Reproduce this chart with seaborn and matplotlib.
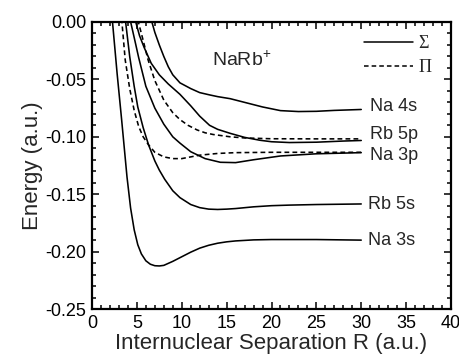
import numpy as np
import pandas as pd
import matplotlib
matplotlib.use("Agg")
import matplotlib.pyplot as plt
import seaborn as sns
from matplotlib.lines import Line2D
from matplotlib.ticker import MultipleLocator

# ---- data (R in a.u., E in a.u.) ----
na3s_R = [2.25, 2.8, 3.3, 3.9, 4.3, 4.7, 5.1, 5.5, 6.0, 6.5, 7.0, 7.5, 8.0, 9.0, 10, 11, 12, 13, 14, 15, 16, 18, 20, 25, 30]
na3s_E = [0.003, -0.045, -0.085, -0.135, -0.162, -0.181, -0.194, -0.202, -0.208, -0.211, -0.2123, -0.2125, -0.212,
          -0.2085, -0.2045, -0.2005, -0.197, -0.1945, -0.1927, -0.1915, -0.1907, -0.1898, -0.1895, -0.1895, -0.190]

rb5s_R = [3.7, 4.2, 4.7, 5.1, 5.7, 6.3, 7.0, 7.5, 8.1, 9.0, 9.8, 11, 12, 13, 14, 15, 16, 18, 20, 22, 25, 30]
rb5s_E = [0.003, -0.030, -0.056, -0.074, -0.092, -0.107, -0.121, -0.129, -0.137, -0.147, -0.153, -0.159, -0.1617,
          -0.163, -0.1633, -0.163, -0.1625, -0.161, -0.160, -0.1595, -0.159, -0.1585]

na3pS_R = [4.25, 4.8, 5.2, 6.0, 7.0, 8.0, 9.0, 9.8, 11, 12.6, 14.3, 16, 18, 21, 25, 30]
na3pS_E = [0.002, -0.017, -0.031, -0.056, -0.075, -0.089, -0.100, -0.1055, -0.113, -0.119, -0.1222, -0.1225,
           -0.120, -0.1167, -0.1148, -0.1138]

na3pP_R = [3.3, 3.7, 4.2, 4.7, 5.2, 5.7, 6.3, 7.0, 8.0, 9.0, 10, 11, 12, 14, 16, 20, 25, 30]
na3pP_E = [0.003, -0.033, -0.058, -0.077, -0.091, -0.100, -0.107, -0.1135, -0.1175, -0.119, -0.119, -0.1175,
           -0.116, -0.1145, -0.1138, -0.1135, -0.1135, -0.1135]

rb5pS_R = [4.8, 5.3, 5.8, 6.6, 7.5, 8.5, 9.8, 11, 12, 13.1, 14, 15.4, 17, 18.7, 20, 22, 25, 28, 30]
rb5pS_E = [0.002, -0.012, -0.022, -0.036, -0.046, -0.054, -0.063, -0.073, -0.082, -0.090, -0.0935, -0.097,
           -0.1005, -0.103, -0.1043, -0.105, -0.1047, -0.1037, -0.1032]

rb5pP_R = [5.1, 5.6, 6.25, 7.0, 8.0, 9.0, 9.8, 10.7, 11.7, 12.6, 13.5, 15.4, 17, 20, 25, 30]
rb5pP_E = [0.002, -0.013, -0.033, -0.051, -0.068, -0.079, -0.085, -0.090, -0.094, -0.0965, -0.098, -0.100,
           -0.101, -0.1017, -0.1018, -0.1018]

na4s_R = [6.6, 7.0, 7.5, 8.0, 8.5, 9.0, 9.8, 11, 12, 13.1, 14, 15.4, 17, 19, 21, 23, 25, 27, 30]
na4s_E = [0.002, -0.009, -0.020, -0.030, -0.039, -0.046, -0.053, -0.058, -0.0615, -0.0635, -0.065, -0.0668,
          -0.070, -0.074, -0.0772, -0.078, -0.0778, -0.077, -0.0762]

curve_labels = ["Na 4s", "Rb 5p", "Na 3p", "Rb 5s", "Na 3s"]
label_E = [-0.074, -0.0984, -0.1167, -0.1594, -0.190]
label_R = [31.0, 31.0, 31.0, 30.7, 30.7]

xticks = [0, 5, 10, 15, 20, 25, 30, 35, 40]
yticks = [0.00, -0.05, -0.10, -0.15, -0.20, -0.25]

# ---- style ----
sns.set_style("ticks")
plt.rcParams["font.family"] = ["Liberation Sans", "DejaVu Sans"]
plt.rcParams["axes.unicode_minus"] = False
plt.rcParams["mathtext.fontset"] = "custom"
plt.rcParams["mathtext.rm"] = "Liberation Sans"
plt.rcParams["mathtext.it"] = "Liberation Sans:italic"
plt.rcParams["mathtext.bf"] = "Liberation Sans:bold"

fig = plt.figure(figsize=(4.6, 3.58), dpi=100)
ax = fig.add_axes([92 / 460, 1 - 309 / 358, (451 - 92) / 460, (309 - 22) / 358])

sigma = [(na3s_R, na3s_E), (rb5s_R, rb5s_E), (na3pS_R, na3pS_E), (rb5pS_R, rb5pS_E), (na4s_R, na4s_E)]
pi = [(na3pP_R, na3pP_E), (rb5pP_R, rb5pP_E)]

for R, E in sigma:
    sns.lineplot(x=R, y=E, ax=ax, color="black", lw=1.15, sort=False)
for R, E in pi:
    sns.lineplot(x=R, y=E, ax=ax, color="black", lw=1.15, sort=False, linestyle=(0, (3, 2)))

ax.set_xlim(0, 40)
ax.set_ylim(-0.25, 0.0)
ax.xaxis.set_major_locator(MultipleLocator(5))
ax.xaxis.set_minor_locator(MultipleLocator(1))
ax.yaxis.set_major_locator(MultipleLocator(0.05))
ax.yaxis.set_minor_locator(MultipleLocator(0.01))
ax.set_xticks(xticks)
ax.set_yticks(yticks)
ax.set_xticklabels([str(v) for v in xticks])
ax.set_yticklabels([f"{v:.2f}" for v in yticks])

ax.tick_params(which="both", direction="in", top=True, right=True, width=1.1, labelsize=13, colors="black")
ax.tick_params(which="major", length=5, pad=4)
ax.tick_params(which="minor", length=2.8)
for s in ax.spines.values():
    s.set_linewidth(1.6)
    s.set_color("black")

ax.set_xlabel("Internuclear Separation R (a.u.)", fontsize=16, labelpad=1)
ax.set_ylabel("Energy (a.u.)", fontsize=16, labelpad=2)

for lab, r, e in zip(curve_labels, label_R, label_E):
    ax.text(r, e, lab, fontsize=13, va="center", ha="left")

ax.text(13.4, -0.033, r"NaRb$^{+}$", fontsize=14, va="center", ha="left")

handles = [Line2D([], [], color="black", lw=1.1),
           Line2D([], [], color="black", lw=1.1, linestyle=(0, (3, 2)))]
leg = ax.legend(handles, ["Σ", "Π"], loc="upper left", bbox_to_anchor=(0.759, 0.955),
                frameon=False, handlelength=2.7, handletextpad=0.3, labelspacing=0.42,
                borderpad=0, borderaxespad=0, prop={"family": ["Liberation Serif", "DejaVu Serif"], "size": 13})

fig.savefig("out.png", dpi=100)
